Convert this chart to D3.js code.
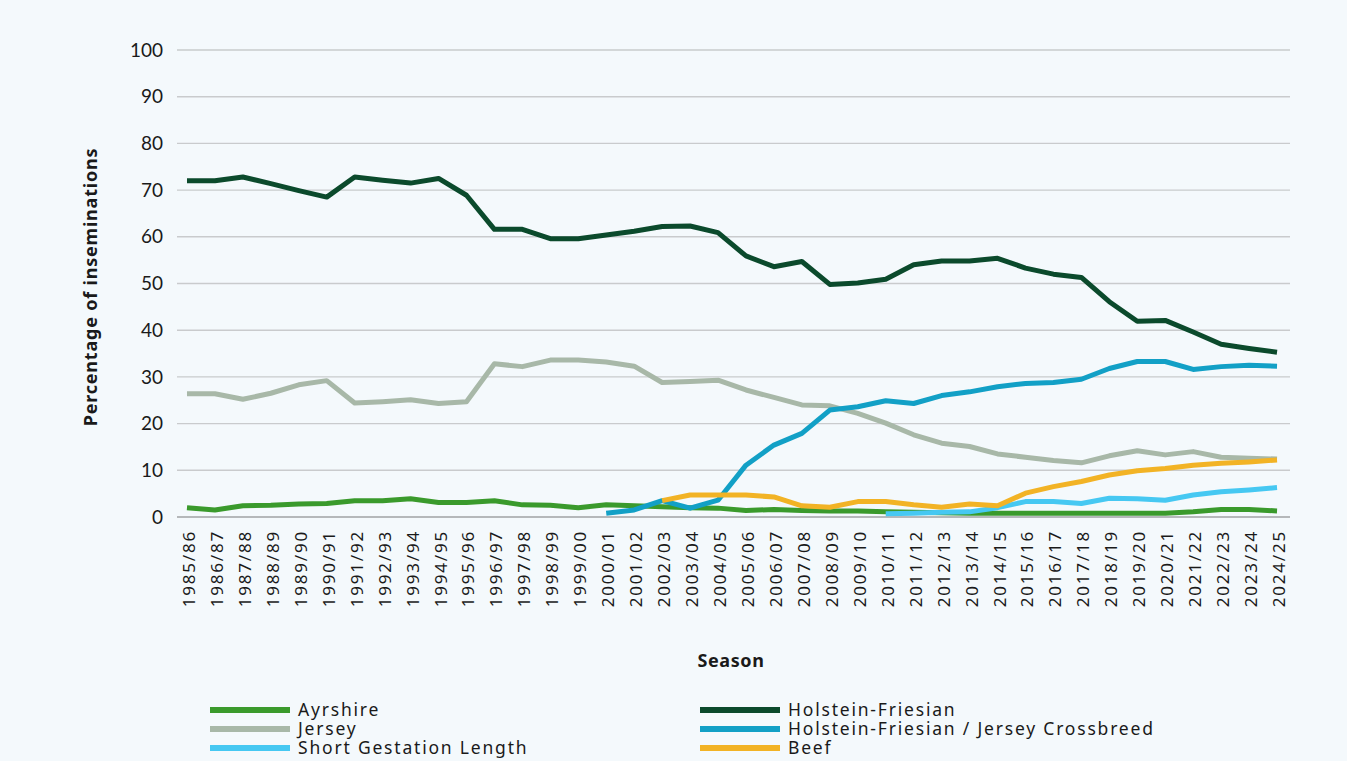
<!DOCTYPE html>
<html>
<head>
<meta charset="utf-8">
<script src="https://cdn.jsdelivr.net/npm/d3@7"></script>
<style>
  html, body { margin: 0; padding: 0; background: #f4f9fc; }
  svg { display: block; }
  text { font-family: Lato, "Noto Sans", sans-serif; fill: #1a1a1a; }
</style>
</head>
<body>
<svg id="chart" width="1347" height="761"></svg>
<script>
const seasons = ["1985/86","1986/87","1987/88","1988/89","1989/90","1990/91","1991/92","1992/93","1993/94","1994/95",
  "1995/96","1996/97","1997/98","1998/99","1999/00","2000/01","2001/02","2002/03","2003/04","2004/05",
  "2005/06","2006/07","2007/08","2008/09","2009/10","2010/11","2011/12","2012/13","2013/14","2014/15",
  "2015/16","2016/17","2017/18","2018/19","2019/20","2020/21","2021/22","2022/23","2023/24","2024/25"];

const ayrshire = [2.0,1.5,2.4,2.5,2.8,2.9,3.5,3.5,3.9,3.1,3.1,3.5,2.6,2.5,2.0,2.6,2.4,2.2,2.0,1.9,
  1.4,1.6,1.4,1.3,1.3,1.1,1.0,0.9,0.8,0.8,0.8,0.8,0.8,0.8,0.8,0.8,1.1,1.6,1.6,1.3];
const holsteinFriesian = [72,72,72.8,71.4,69.9,68.5,72.8,72.1,71.5,72.5,68.9,61.6,61.6,59.6,59.6,60.4,61.2,62.2,62.3,60.9,
  55.9,53.6,54.7,49.8,50.1,50.9,54.0,54.8,54.8,55.4,53.3,52.0,51.3,46.1,41.9,42.1,39.6,37.0,36.1,35.3];
const jersey = [26.4,26.4,25.2,26.5,28.3,29.2,24.4,24.7,25.1,24.3,24.7,32.8,32.2,33.6,33.6,33.2,32.3,28.8,29.0,29.3,
  27.2,25.6,24.0,23.8,22.2,20.1,17.6,15.8,15.1,13.5,12.8,12.1,11.6,13.1,14.2,13.3,14.0,12.8,12.6,12.4];
const crossbreed = [null,null,null,null,null,null,null,null,null,null,null,null,null,null,null,
  0.8,1.5,3.5,1.9,3.6,11.1,15.4,17.9,22.9,23.6,24.9,24.3,26.0,26.8,27.9,28.6,28.8,29.5,31.8,33.3,33.3,31.6,32.2,32.5,32.3];
const shortGestation = [null,null,null,null,null,null,null,null,null,null,null,null,null,null,null,
  null,null,null,null,null,null,null,null,null,null,
  0.7,0.8,1.0,1.1,2.0,3.3,3.3,2.9,4.0,3.9,3.6,4.7,5.4,5.8,6.3];
const beef = [null,null,null,null,null,null,null,null,null,null,null,null,null,null,null,null,null,
  3.5,4.7,4.7,4.7,4.3,2.4,2.1,3.3,3.3,2.6,2.1,2.8,2.4,5.1,6.5,7.6,9.0,9.9,10.4,11.1,11.5,11.8,12.2];

const yTicks = [0,10,20,30,40,50,60,70,80,90,100];

const seriesNames = ["Ayrshire","Holstein-Friesian","Jersey","Holstein-Friesian / Jersey Crossbreed","Short Gestation Length","Beef"];
const seriesColors = ["#3a9a2c","#0b4a2c","#a8b8a8","#12a0c6","#46c8f2","#f2b325"];
const seriesValues = [ayrshire, holsteinFriesian, jersey, crossbreed, shortGestation, beef];
const drawOrder = [0,2,1,3,4,5];

const svg = d3.select("#chart");
const x = d3.scalePoint().domain(seasons).range([173, 1291]).padding(0.5);
const y = d3.scaleLinear().domain([0, 100]).range([517, 50]);

// gridlines
svg.append("g").selectAll("line").data(yTicks).join("line")
  .attr("x1", 177).attr("x2", 1290)
  .attr("y1", d => y(d)).attr("y2", d => y(d))
  .attr("stroke", d => d === 0 ? "#b5b8ba" : "#c9cbcd")
  .attr("stroke-width", d => d === 0 ? 2 : 1.4);

// y tick labels
svg.append("g").selectAll("text").data(yTicks).join("text")
  .attr("x", 163).attr("y", d => y(d)).attr("dy", "0.35em")
  .attr("text-anchor", "end").style("font-size", "19px")
  .text(d => d);

// x tick labels
svg.append("g").selectAll("text").data(seasons).join("text")
  .attr("transform", d => `translate(${x(d) + 8},530) rotate(-90)`)
  .attr("text-anchor", "end")
  .style("font-family", "'Noto Sans', sans-serif")
  .style("font-size", "17px").style("letter-spacing", "1.8px")
  .text(d => d);

// axis titles
svg.append("text").attr("transform", "translate(97,287) rotate(-90)")
  .attr("text-anchor", "middle")
  .style("font-family", "'Noto Sans', sans-serif")
  .style("font-size", "18px").style("font-weight", "700").style("letter-spacing", "0.8px")
  .text("Percentage of inseminations");
svg.append("text").attr("x", 731).attr("y", 667)
  .attr("text-anchor", "middle")
  .style("font-family", "'Noto Sans', sans-serif")
  .style("font-size", "18px").style("font-weight", "700").style("letter-spacing", "0.6px")
  .text("Season");

// lines
const line = d3.line()
  .defined(d => d.v !== null)
  .x(d => x(d.s)).y(d => y(d.v));

svg.append("g").selectAll("path").data(drawOrder).join("path")
  .attr("fill", "none")
  .attr("stroke", i => seriesColors[i])
  .attr("stroke-width", 5)
  .attr("stroke-linejoin", "round")
  .attr("d", i => line(seasons.map((s, k) => ({s: s, v: seriesValues[i][k]}))));

// legend
const legendPos = [[0,0],[1,0],[0,1],[1,1],[0,2],[1,2]];
const leg = svg.append("g").selectAll("g").data(seriesNames).join("g")
  .attr("transform", (d, i) => `translate(${210 + legendPos[i][0]*490},${710 + legendPos[i][1]*19})`);
leg.append("line").attr("x1", 0).attr("x2", 80).attr("y1", 0).attr("y2", 0)
  .attr("stroke", (d, i) => seriesColors[i]).attr("stroke-width", 6);
leg.append("text").attr("x", 88).attr("y", 0).attr("dy", "0.35em")
  .style("font-family", "'Noto Sans', sans-serif")
  .style("font-size", "17.5px").style("letter-spacing", "1.8px")
  .text(d => d);
</script>
</body>
</html>
